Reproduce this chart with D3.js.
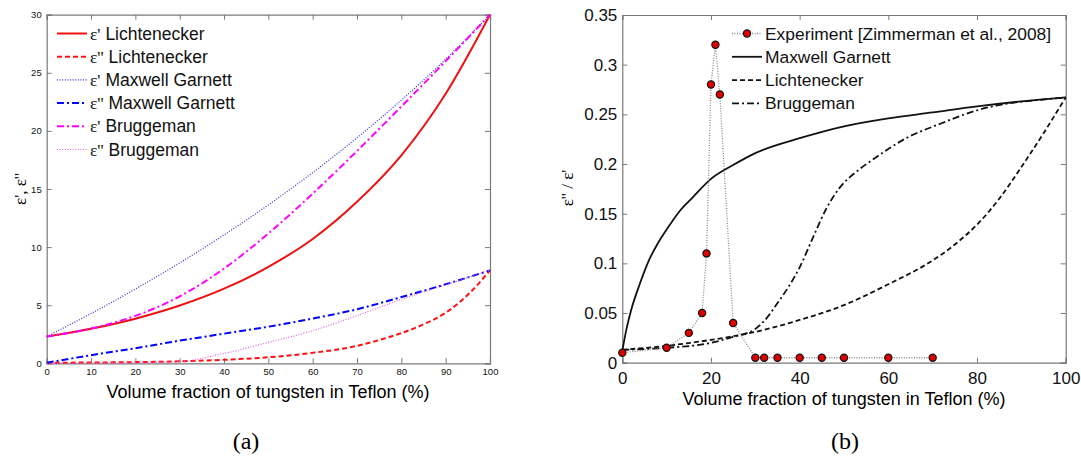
<!DOCTYPE html>
<html>
<head>
<meta charset="utf-8">
<script src="https://cdn.jsdelivr.net/npm/d3@7"></script>
<style>
  body { margin: 0; background: #fff; }
  svg text { font-family: "Liberation Sans", Arial, sans-serif; }
</style>
</head>
<body>
<div id="chart"></div>
<script>
// ---- panel (a) data: permittivity vs volume fraction ----
const fracA = [0, 10, 20, 30, 40, 50, 60, 70, 80, 90, 100];
const lichtReal = [2.3, 2.97, 3.84, 4.97, 6.42, 8.3, 10.7, 13.9, 17.9, 23.2, 30];
const lichtImagX = [0, 10, 20, 30, 40, 50, 60, 70, 75, 80, 85, 90, 95, 100];
const lichtImag = [0.04, 0.07, 0.1, 0.17, 0.3, 0.52, 0.9, 1.5, 2.0, 2.6, 3.35, 4.35, 5.9, 8.0];
const mgReal = [2.3, 4.28, 6.39, 8.64, 11.05, 13.63, 16.41, 19.41, 22.65, 26.17, 30];
const mgImag = [0.05, 0.7, 1.3, 1.95, 2.55, 3.15, 3.85, 4.65, 5.7, 6.8, 8.0];
const brugReal = [2.3, 2.99, 4.08, 5.76, 8.15, 11.17, 14.6, 18.27, 22.1, 26.0, 30];
const brugImag = [0.0, 0.01, 0.03, 0.15, 0.85, 1.8, 2.8, 4.1, 5.5, 6.75, 8.0];
const ticksAx = [0, 10, 20, 30, 40, 50, 60, 70, 80, 90, 100];
const ticksAy = [0, 5, 10, 15, 20, 25, 30];

// ---- panel (b) data: loss tangent ----
const expX = [0, 10, 15, 18, 19, 20, 21, 22, 25, 30, 32, 35, 40, 45, 50, 60, 70];
const expY = [0.01, 0.015, 0.03, 0.05, 0.11, 0.28, 0.32, 0.27, 0.04, 0.005, 0.005, 0.005, 0.005, 0.005, 0.005, 0.005, 0.005];
const mgTanX = [0, 1, 2, 4, 6, 8, 10, 13, 16, 20, 25, 30, 40, 50, 60, 70, 80, 90, 100];
const mgTanY = [0.012, 0.035, 0.053, 0.08, 0.103, 0.12, 0.134, 0.153, 0.167, 0.185, 0.199, 0.211, 0.226, 0.238, 0.246, 0.252, 0.258, 0.263, 0.267];
const lichtTanX = [0, 10, 20, 30, 40, 50, 60, 70, 75, 80, 85, 90, 95, 100];
const lichtTanY = [0.013, 0.017, 0.023, 0.031, 0.043, 0.058, 0.079, 0.103, 0.119, 0.139, 0.165, 0.197, 0.231, 0.267];
const brugTanX = [0, 10, 20, 25, 30, 32, 35, 38, 40, 43, 46, 49, 53, 57, 64, 72, 79, 87, 93, 100];
const brugTanY = [0.013, 0.015, 0.02, 0.026, 0.034, 0.042, 0.06, 0.08, 0.096, 0.126, 0.155, 0.176, 0.193, 0.206, 0.226, 0.241, 0.2527, 0.261, 0.264, 0.267];
const ticksBx = [0, 20, 40, 60, 80, 100];
const ticksBy = [0, 0.05, 0.1, 0.15, 0.2, 0.25, 0.3, 0.35];

const svg = d3.select("#chart").append("svg")
    .attr("width", 1081)
    .attr("height", 456);

const boxColor = "#7a7a7a";

// draws the MATLAB-like box with inward ticks on all four sides
function drawFrame(g, x, y, xt, yt, fontSize, padX, fmtY) {
    let x0 = x.range()[0], x1 = x.range()[1];
    let y0 = y.range()[0], y1 = y.range()[1];

    let bottom = g.append("g").attr("transform", `translate(0,${y0})`)
        .call(d3.axisBottom(x).tickValues(xt).tickSize(-5).tickPadding(padX).tickFormat(d3.format("d")));
    let top = g.append("g").attr("transform", `translate(0,${y1})`)
        .call(d3.axisTop(x).tickValues(xt).tickSize(-5).tickFormat(""));
    let left = g.append("g").attr("transform", `translate(${x0},0)`)
        .call(d3.axisLeft(y).tickValues(yt).tickSize(-5).tickPadding(5).tickFormat(fmtY));
    let right = g.append("g").attr("transform", `translate(${x1},0)`)
        .call(d3.axisRight(y).tickValues(yt).tickSize(-5).tickFormat(""));

    [bottom, top, left, right].forEach(a => {
        a.select(".domain").attr("stroke", boxColor).attr("stroke-width", 1.2);
        a.selectAll(".tick line").attr("stroke", boxColor);
        a.selectAll("text").attr("fill", "#111").style("font-size", fontSize + "px");
    });
}

function addLegend(g, items, lx, ly, step, fontSize) {
    items.forEach((it, i) => {
        let yy = ly + i * step;
        g.append("line")
            .attr("x1", lx).attr("x2", lx + 30)
            .attr("y1", yy).attr("y2", yy)
            .attr("stroke", it.color)
            .attr("stroke-width", it.width)
            .attr("stroke-dasharray", it.dash);
        if (it.marker) {
            g.append("circle").attr("cx", lx + 15).attr("cy", yy).attr("r", 3.6)
                .attr("fill", "#e00000").attr("stroke", "#111").attr("stroke-width", 1.2);
        }
        let t = g.append("text")
            .attr("x", lx + 33).attr("y", yy)
            .attr("dy", "0.35em")
            .style("font-size", fontSize + "px")
            .attr("fill", "#111");
        if (it.sym) {
            t.append("tspan").style("font-family", "'Liberation Serif', 'DejaVu Serif', serif").text(it.sym);
        }
        t.append("tspan").text(it.label);
    });
}

// ================= panel (a) =================
const xA = d3.scaleLinear().domain([0, 100]).range([46.7, 490]);
const yA = d3.scaleLinear().domain([0, 30]).range([363.3, 14.7]);
const gA = svg.append("g");

const seriesA = [
    { xs: fracA, vals: lichtReal, color: "#ee1111", width: 2, dash: null },
    { xs: lichtImagX, vals: lichtImag, color: "#ff1010", width: 2, dash: "5,3" },
    { xs: fracA, vals: mgReal, color: "#3030d8", width: 1.2, dash: "1,1.6" },
    { xs: fracA, vals: mgImag, color: "#0000ff", width: 2, dash: "7,3,2,3" },
    { xs: fracA, vals: brugReal, color: "#ff00ff", width: 2, dash: "7,3,2,3" },
    { xs: fracA, vals: brugImag, color: "#e060e0", width: 1.2, dash: "1,1.6" }
];

const lineA = d3.line()
    .x(d => xA(d[0]))
    .y(d => yA(d[1]))
    .curve(d3.curveMonotoneX);

drawFrame(gA, xA, yA, ticksAx, ticksAy, 9.5, 5, d3.format("d"));

seriesA.forEach(s => {
    gA.append("path")
        .datum(s.xs.map((f, i) => [f, s.vals[i]]))
        .attr("d", lineA)
        .attr("fill", "none")
        .attr("stroke", s.color)
        .attr("stroke-width", s.width)
        .attr("stroke-dasharray", s.dash);
});

addLegend(gA, [
    { sym: "ε'", label: " Lichtenecker", color: "#ee1111", width: 2, dash: null },
    { sym: "ε''", label: " Lichtenecker", color: "#ff1010", width: 2, dash: "5,3" },
    { sym: "ε'", label: " Maxwell Garnett", color: "#3030d8", width: 1.2, dash: "1,1.6" },
    { sym: "ε''", label: " Maxwell Garnett", color: "#0000ff", width: 2, dash: "7,3,2,3" },
    { sym: "ε'", label: " Bruggeman", color: "#ff00ff", width: 2, dash: "7,3,2,3" },
    { sym: "ε''", label: " Bruggeman", color: "#e060e0", width: 1.2, dash: "1,1.6" }
], 57, 33.5, 23.2, 17.5);

gA.append("text")
    .attr("x", 268).attr("y", 398)
    .attr("text-anchor", "middle")
    .style("font-size", "18px")
    .text("Volume fraction of tungsten in Teflon (%)");

gA.append("text")
    .attr("transform", "translate(26,189) rotate(-90)")
    .attr("text-anchor", "middle")
    .style("font-size", "17px")
    .style("font-family", "'Liberation Serif', serif")
    .text("ε', ε''");

svg.append("text")
    .attr("x", 246).attr("y", 449)
    .attr("text-anchor", "middle")
    .style("font-family", "'Liberation Serif', 'DejaVu Serif', serif")
    .style("font-size", "24px")
    .text("(a)");

// ================= panel (b) =================
const xB = d3.scaleLinear().domain([0, 100]).range([622.3, 1065.7]);
const yB = d3.scaleLinear().domain([0, 0.35]).range([362.7, 15]);
const gB = svg.append("g");

drawFrame(gB, xB, yB, ticksBx, ticksBy, 17, 9, d => d === 0 ? "0" : String(d));

const lineB = d3.line()
    .x(d => xB(d[0]))
    .y(d => yB(d[1]))
    .curve(d3.curveMonotoneX);

const modelsB = [
    { xs: mgTanX, ys: mgTanY, dash: null },
    { xs: lichtTanX, ys: lichtTanY, dash: "5,3" },
    { xs: brugTanX, ys: brugTanY, dash: "7,3,2,3" }
];

modelsB.forEach(m => {
    gB.append("path")
        .datum(m.xs.map((v, i) => [v, m.ys[i]]))
        .attr("d", lineB)
        .attr("fill", "none")
        .attr("stroke", "#111")
        .attr("stroke-width", 1.8)
        .attr("stroke-dasharray", m.dash);
});

const expData = expX.map((v, i) => [v, expY[i]]);

gB.append("path")
    .datum(expData)
    .attr("d", d3.line().x(d => xB(d[0])).y(d => yB(d[1])))
    .attr("fill", "none")
    .attr("stroke", "#8a8a8a")
    .attr("stroke-width", 1.3)
    .attr("stroke-dasharray", "1,1.5");

gB.selectAll(".pt")
    .data(expData)
    .enter()
    .append("circle")
    .attr("class", "pt")
    .attr("cx", d => xB(d[0]))
    .attr("cy", d => yB(d[1]))
    .attr("r", 3.6)
    .attr("fill", "#e00000")
    .attr("stroke", "#111")
    .attr("stroke-width", 1.2);

addLegend(gB, [
    { label: "Experiment [Zimmerman et al., 2008]", color: "#8a8a8a", width: 1.3, dash: "1,1.5", marker: true },
    { label: "Maxwell Garnett", color: "#111", width: 1.8, dash: null },
    { label: "Lichtenecker", color: "#111", width: 1.8, dash: "5,3" },
    { label: "Bruggeman", color: "#111", width: 1.8, dash: "7,3,2,3" }
], 732, 33.5, 23.3, 17.4);

gB.append("text")
    .attr("x", 844).attr("y", 405)
    .attr("text-anchor", "middle")
    .style("font-size", "18px")
    .text("Volume fraction of tungsten in Teflon (%)");

gB.append("text")
    .attr("transform", "translate(573,188) rotate(-90)")
    .attr("text-anchor", "middle")
    .style("font-size", "17px")
    .style("font-family", "'Liberation Serif', serif")
    .text("ε'' / ε'");

svg.append("text")
    .attr("x", 845).attr("y", 449)
    .attr("text-anchor", "middle")
    .style("font-family", "'Liberation Serif', 'DejaVu Serif', serif")
    .style("font-size", "24px")
    .text("(b)");
</script>
</body>
</html>
